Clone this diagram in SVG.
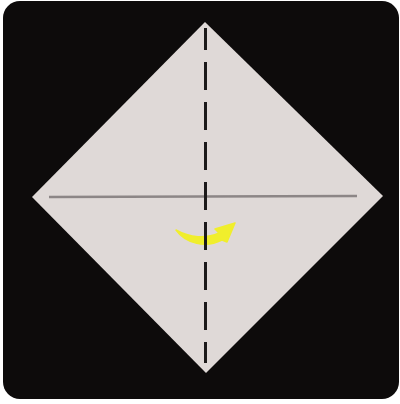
<svg xmlns="http://www.w3.org/2000/svg" width="400" height="404" viewBox="0 0 400 404">
<style>
.crease{stroke:#8c8686;stroke-width:2.5;fill:none}
.valley{stroke:#1c1a1a;stroke-width:3;fill:none;stroke-dasharray:28 12;stroke-dashoffset:6}
</style>
<rect x="0" y="0" width="400" height="404" fill="#ffffff"/>
<rect x="3" y="1" width="396" height="398" rx="17" fill="#0d0b0b"/>
<g id="paper">
<polygon points="205,22 383,196 206,373 32,197" fill="#dfd9d7"/>
</g>
<g id="connectors">
<line class="crease" x1="49" y1="197" x2="357" y2="196"/>
<path id="arrow" d="M176,230 C186,244 206,248 222,240 L227,242 L235,223 L215,229 L219,233 C206,239 190,238 176,230 Z" fill="#f2f01e" stroke="#f2f01e" stroke-width="1.5" stroke-linejoin="round" opacity="0.92"/>
<line class="valley" x1="205.5" y1="28" x2="205.5" y2="363"/>
</g>
</svg>
